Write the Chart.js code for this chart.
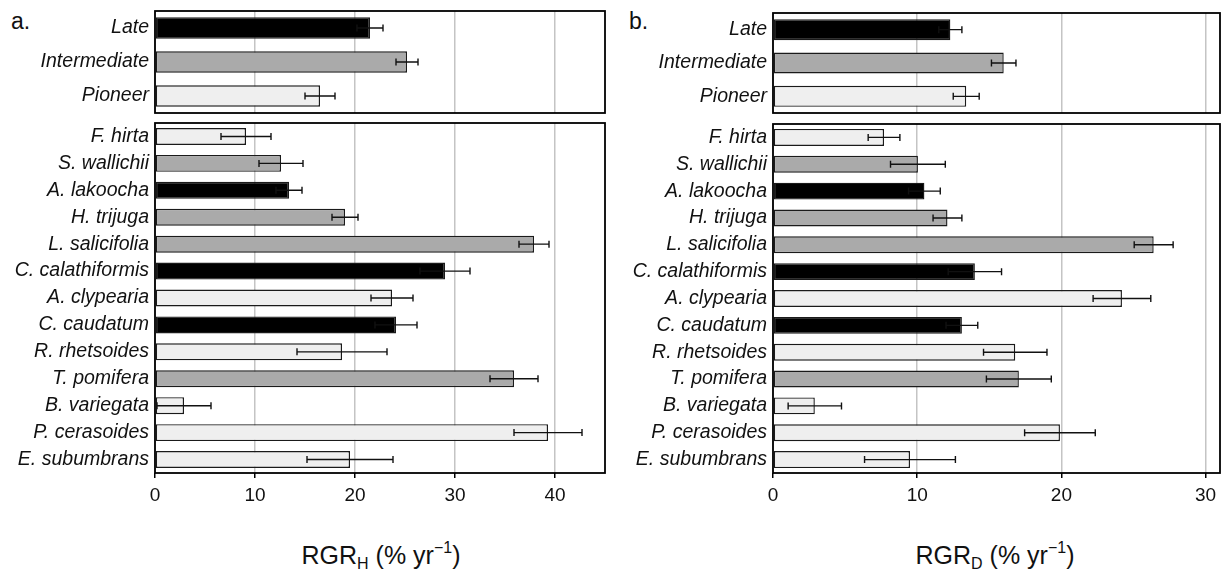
<!DOCTYPE html>
<html>
<head>
<meta charset="utf-8">
<script src="https://cdn.jsdelivr.net/npm/chart.js@4.4.1/dist/chart.umd.min.js"></script>
<style>
  body { margin: 0; background: #fff; width: 1223px; height: 577px; position: relative; overflow: hidden;
         font-family: "Liberation Sans", Arial, sans-serif; color: #111; }
  canvas { position: absolute; }
  .panel-label { position: absolute; font-size: 23px; }
  .axis-title { position: absolute; font-size: 25px; white-space: nowrap; transform: translateX(-50%); }
  .axis-title sub { font-size: 16px; vertical-align: -5px; }
  .axis-title sup { font-size: 16px; vertical-align: 11px; }
</style>
</head>
<body>
<div class="panel-label" style="left:11px;top:8px">a.</div>
<div class="panel-label" style="left:629px;top:8px">b.</div>

<canvas id="aTop" width="612" height="118" style="left:0;top:0"></canvas>
<canvas id="aBottom" width="612" height="400" style="left:0;top:115px"></canvas>
<canvas id="bTop" width="611" height="118" style="left:612px;top:0"></canvas>
<canvas id="bBottom" width="611" height="400" style="left:612px;top:115px"></canvas>

<div class="axis-title" style="left:381px;top:539px">RGR<sub>H</sub> (% yr<sup>−1</sup>)</div>
<div class="axis-title" style="left:995px;top:539px">RGR<sub>D</sub> (% yr<sup>−1</sup>)</div>

<script>
// successional groups
const groupLabels = ["Late", "Intermediate", "Pioneer"];
const groupClass = ["Late", "Intermediate", "Pioneer"];

// species (top to bottom)
const speciesLabels = ["F. hirta", "S. wallichii", "A. lakoocha", "H. trijuga", "L. salicifolia",
  "C. calathiformis", "A. clypearia", "C. caudatum", "R. rhetsoides", "T. pomifera",
  "B. variegata", "P. cerasoides", "E. subumbrans"];
const speciesClass = ["Pioneer", "Intermediate", "Late", "Intermediate", "Intermediate",
  "Late", "Pioneer", "Late", "Pioneer", "Intermediate",
  "Pioneer", "Pioneer", "Pioneer"];

// a. height growth rate (% per yr) with error
const rgrHGroup = [21.5, 25.2, 16.5];
const rgrHGroupErr = [1.3, 1.1, 1.5];
const rgrHSpecies = [9.1, 12.6, 13.4, 19.0, 37.9, 29.0, 23.7, 24.1, 18.7, 35.9, 2.9, 39.3, 19.5];
const rgrHSpeciesErr = [2.5, 2.2, 1.3, 1.3, 1.5, 2.5, 2.1, 2.1, 4.5, 2.4, 2.7, 3.4, 4.3];

// b. diameter growth rate (% per yr) with error
const rgrDGroup = [12.3, 16.0, 13.4];
const rgrDGroupErr = [0.8, 0.85, 0.9];
const rgrDSpecies = [7.7, 10.05, 10.5, 12.1, 26.4, 14.0, 24.2, 13.1, 16.8, 17.05, 2.9, 19.9, 9.5];
const rgrDSpeciesErr = [1.1, 1.9, 1.1, 1.0, 1.35, 1.85, 2.0, 1.1, 2.2, 2.25, 1.85, 2.45, 3.15];

const ticksH = [0, 10, 20, 30, 40];
const ticksD = [0, 10, 20, 30];

const classColors = { Late: "#000000", Intermediate: "#aaaaaa", Pioneer: "#efefef" };

// error bars + frame around the plot area
const errorBarPlugin = {
  id: "errorBars",
  afterDatasetsDraw(chart) {
    const ctx = chart.ctx;
    const xs = chart.scales.x;
    const meta = chart.getDatasetMeta(0);
    const ds = chart.data.datasets[0];
    ctx.save();
    ctx.strokeStyle = "#111";
    ctx.lineWidth = 1.4;
    meta.data.forEach((bar, i) => {
      const v = ds.data[i], e = ds.errors[i];
      const x1 = xs.getPixelForValue(Math.max(0, v - e));
      const x2 = xs.getPixelForValue(v + e);
      const y = bar.y;
      ctx.beginPath();
      ctx.moveTo(x1, y); ctx.lineTo(x2, y);
      ctx.moveTo(x1, y - 3.5); ctx.lineTo(x1, y + 3.5);
      ctx.moveTo(x2, y - 3.5); ctx.lineTo(x2, y + 3.5);
      ctx.stroke();
    });
    const a = chart.chartArea;
    ctx.strokeStyle = "#000";
    ctx.lineWidth = 1.8;
    ctx.strokeRect(a.left, a.top, a.right - a.left, a.bottom - a.top);
    ctx.restore();
  }
};

function noEdgePadding(scale) {
  scale.paddingTop = 0;
  scale.paddingBottom = 0;
  scale.paddingLeft = 0;
  scale.paddingRight = 0;
}

function makeChart(id, labels, values, errors, classes, cfg) {
  const canvas = document.getElementById(id);
  return new Chart(canvas.getContext("2d"), {
    type: "bar",
    data: {
      labels: labels,
      datasets: [{
        data: values,
        errors: errors,
        backgroundColor: classes.map(c => classColors[c]),
        borderColor: "#1a1a1a",
        borderWidth: 1.4,
        borderSkipped: false,
        barPercentage: 0.63,
        categoryPercentage: 1.0
      }]
    },
    options: {
      indexAxis: "y",
      responsive: false,
      animation: false,
      events: [],
      layout: { padding: cfg.padding },
      plugins: { legend: { display: false }, tooltip: { enabled: false } },
      scales: {
        x: {
          min: 0,
          max: cfg.xMax,
          afterBuildTicks: (scale) => { scale.ticks = cfg.ticks.map(v => ({ value: v })); },
          afterFit: (scale) => { scale.height = cfg.xHeight; noEdgePadding(scale); },
          border: { display: false },
          grid: { color: "#c4c4c4", lineWidth: 1.5, drawTicks: cfg.showTicks, tickLength: 5, tickColor: "#000" },
          ticks: {
            display: cfg.showTicks,
            padding: 6,
            color: "#111",
            font: { family: "Liberation Sans", size: 19 },
            maxRotation: 0
          }
        },
        y: {
          afterFit: (scale) => { scale.width = cfg.yWidth; noEdgePadding(scale); },
          border: { display: false },
          grid: { display: false, drawTicks: false },
          ticks: {
            padding: 6,
            color: "#111",
            font: { family: "Liberation Sans", size: 19.5, style: "italic" }
          }
        }
      }
    },
    plugins: [errorBarPlugin]
  });
}

document.addEventListener("DOMContentLoaded", () => {
  makeChart("aTop", groupLabels, rgrHGroup, rgrHGroupErr, groupClass,
    { xMax: 45, ticks: ticksH, showTicks: false, xHeight: 0, yWidth: 155,
      padding: { top: 11, right: 7, bottom: 5, left: 0 } });
  makeChart("aBottom", speciesLabels, rgrHSpecies, rgrHSpeciesErr, speciesClass,
    { xMax: 45, ticks: ticksH, showTicks: true, xHeight: 42, yWidth: 155,
      padding: { top: 8, right: 7, bottom: 0, left: 0 } });
  makeChart("bTop", groupLabels, rgrDGroup, rgrDGroupErr, groupClass,
    { xMax: 31, ticks: ticksD, showTicks: false, xHeight: 0, yWidth: 161,
      padding: { top: 13, right: 3, bottom: 5, left: 0 } });
  makeChart("bBottom", speciesLabels, rgrDSpecies, rgrDSpeciesErr, speciesClass,
    { xMax: 31, ticks: ticksD, showTicks: true, xHeight: 42, yWidth: 161,
      padding: { top: 9, right: 3, bottom: 0, left: 0 } });
});
</script>
</body>
</html>
